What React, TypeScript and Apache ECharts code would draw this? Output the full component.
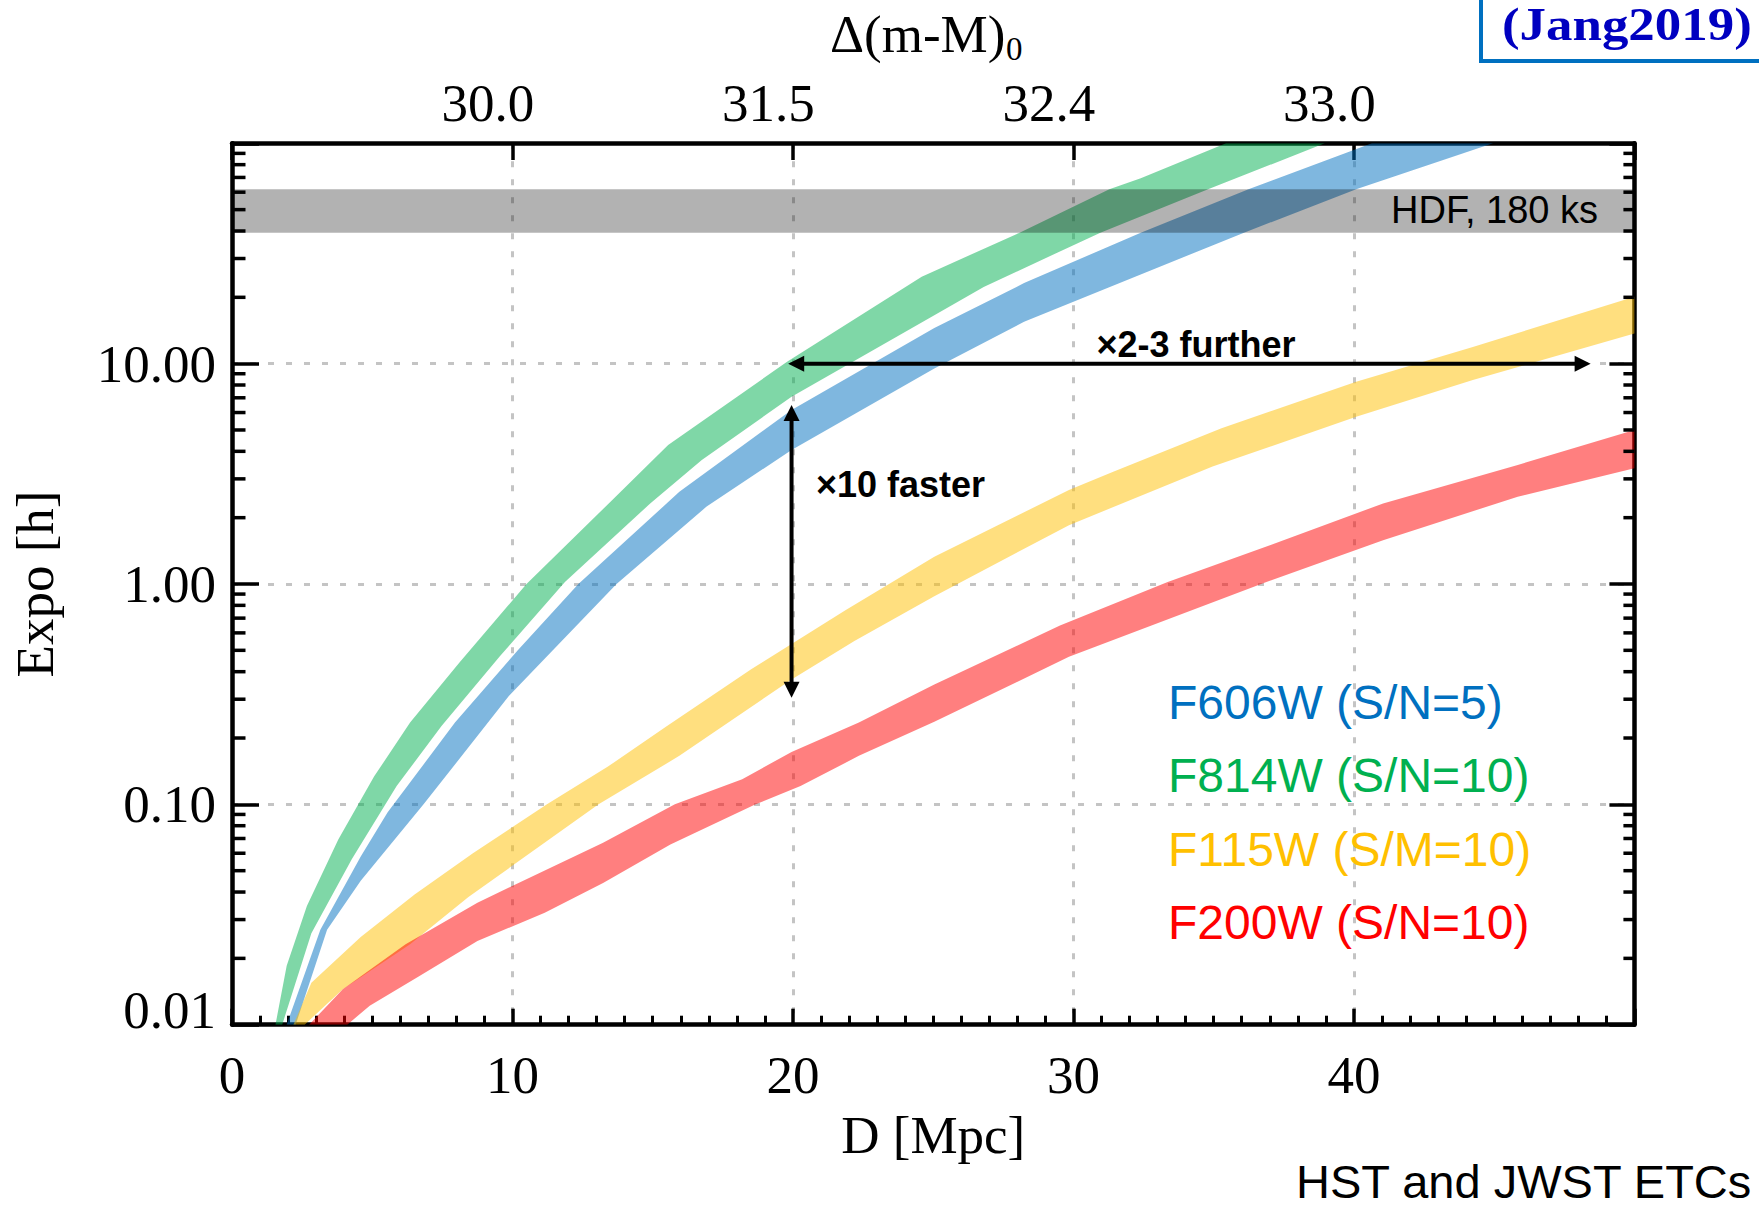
import { useEffect, useRef } from 'react';
import * as echarts from 'echarts';

type Pt = [number, number];

// ---- band edges: [D (Mpc), exposure (h)] ----
const f814wUpper: Pt[] = [[1.55, 0.01], [1.95, 0.0185], [2.67, 0.0346], [3.79, 0.0693], [5.07, 0.134], [6.35, 0.235], [8.11, 0.44], [10.5, 1.0], [13.55, 2.4], [15.55, 4.27], [19.79, 10.2], [24.59, 24.8], [28.08, 39.3], [31.28, 61.8], [32.4, 69.4], [35.44, 100]];
const f814wLower: Pt[] = [[1.79, 0.01], [2.83, 0.026], [4.27, 0.0563], [5.87, 0.121], [7.47, 0.227], [9.55, 0.47], [11.87, 1.02], [14.91, 2.32], [16.75, 3.65], [19.95, 7.08], [25.04, 16.6], [26.8, 22.3], [30.96, 39.3], [34.8, 61.8], [38.96, 100]];
const f606wUpper: Pt[] = [[1.95, 0.01], [3.15, 0.027], [4.59, 0.058], [5.55, 0.092], [7.95, 0.235], [10.19, 0.5], [12.35, 1.0], [15.95, 2.62], [19.95, 6.16], [25.04, 14.5], [28.24, 23.2], [32.4, 39.3], [36.24, 61.8], [40.64, 100]];
const f606wLower: Pt[] = [[2.27, 0.01], [3.39, 0.027], [4.59, 0.045], [6.83, 0.1], [9.87, 0.31], [13.71, 1.0], [16.91, 2.24], [19.95, 4.06], [25.04, 9.5], [28.24, 15.5], [36.08, 39.3], [40.08, 61.8], [44.96, 100]];
const f115wUpper: Pt[] = [[2.19, 0.01], [2.83, 0.0155], [4.59, 0.025], [6.51, 0.039], [8.59, 0.06], [11.23, 0.1], [13.39, 0.148], [15.47, 0.225], [18.51, 0.41], [21.87, 0.76], [25.04, 1.33], [29.84, 2.67], [31.44, 3.24], [35.28, 5.09], [40.08, 8.28], [44.24, 11.9], [50, 20.1]];
const f115wLower: Pt[] = [[2.59, 0.01], [3.95, 0.0145], [6.35, 0.0232], [8.43, 0.038], [13.07, 0.1], [15.95, 0.166], [19.95, 0.369], [22.19, 0.551], [25.04, 0.88], [29.84, 1.85], [34.96, 3.41], [40.08, 5.74], [44.24, 8.43], [50, 13.7]];
const f200wUpper: Pt[] = [[2.75, 0.01], [3.95, 0.0145], [6.19, 0.0232], [8.75, 0.0358], [13.23, 0.067], [15.79, 0.1], [18.19, 0.13], [19.95, 0.173], [22.35, 0.235], [25.04, 0.35], [29.52, 0.648], [33.36, 1.02], [37.2, 1.53], [41.04, 2.32], [45.84, 3.47], [50, 5.0]];
const f200wLower: Pt[] = [[4.11, 0.01], [4.91, 0.0122], [6.67, 0.0166], [8.75, 0.024], [11.15, 0.0322], [13.23, 0.044], [15.63, 0.0658], [18.67, 0.1], [20.27, 0.121], [22.35, 0.166], [25.04, 0.237], [29.84, 0.467], [36.88, 1.02], [41.04, 1.58], [45.84, 2.49], [50, 3.35]];

// HDF 180 ks band (hours)
const hdfRange: [number, number] = [39.3, 61.8];

// axes
const xRange: [number, number] = [0, 50];
const yRange: [number, number] = [0.01, 100];
const topTickValues = [10, 20, 30, 40];
const topTickLabels = ['30.0', '31.5', '32.4', '33.0'];
const yTickLabels = ['0.01', '0.10', '1.00', '10.00'];
const yDecades = [0.01, 0.1, 1, 10];
const yMinorMultipliers = [2, 3, 4, 5, 6, 7, 8, 9];

// annotation arrows: [x0, y0, x1, y1]
const arrowSegments: number[][] = [
  [19.83, 10, 48.44, 10],
  [19.95, 6.49, 19.95, 0.305],
];

const legendItems = [
  { text: 'F606W (S/N=5)', color: '#0070c0' },
  { text: 'F814W (S/N=10)', color: '#00b050' },
  { text: 'F115W (S/M=10)', color: '#ffc000' },
  { text: 'F200W (S/N=10)', color: '#ff0000' },
];

const bands = [
  { name: 'F814W', upper: f814wUpper, lower: f814wLower, fill: 'rgba(0,176,80,0.5)' },
  { name: 'F606W', upper: f606wUpper, lower: f606wLower, fill: 'rgba(0,112,192,0.5)' },
  { name: 'F115W', upper: f115wUpper, lower: f115wLower, fill: 'rgba(255,192,0,0.5)' },
  { name: 'F200W', upper: f200wUpper, lower: f200wLower, fill: 'rgba(255,0,0,0.5)' },
];

const SERIF = 'Liberation Serif';
const SANS = 'Liberation Sans';

export default function App() {
  const ref = useRef<HTMLDivElement>(null);

  useEffect(() => {
    if (!ref.current) return;
    const chart = echarts.init(ref.current, undefined, { renderer: 'svg' });

    const yMinorValues: number[] = [];
    yDecades.forEach((d) => yMinorMultipliers.forEach((m) => yMinorValues.push(+(d * m).toPrecision(3))));

    const gridLine = { show: true, lineStyle: { color: '#c4c4c4', width: 3, type: [6, 12] as any } };
    const axisLine = { show: true, onZero: false, lineStyle: { color: '#000', width: 4.5 } };

    const bandSeries = bands.map((b) => ({
      type: 'custom',
      name: b.name,
      clip: true,
      silent: true,
      data: [[25, 1]],
      renderItem: (_p: any, api: any) => {
        const pts = b.upper.map((p) => api.coord(p)).concat(b.lower.slice().reverse().map((p) => api.coord(p)));
        return { type: 'polygon', shape: { points: pts }, style: { fill: b.fill } };
      },
    }));

    const option: any = {
      animation: false,
      backgroundColor: '#fff',
      grid: { left: 231.4, top: 143.3, right: 124.6, bottom: 183.3, containLabel: false },
      xAxis: [
        {
          type: 'value', position: 'bottom', min: xRange[0], max: xRange[1], interval: 10,
          name: 'D [Mpc]', nameLocation: 'middle', nameGap: 84,
          nameTextStyle: { fontFamily: SERIF, fontSize: 53, color: '#000' },
          axisLine,
          axisTick: { show: true, inside: true, length: 16, lineStyle: { color: '#000', width: 3.5 } },
          minorTick: { show: true, splitNumber: 10, length: 9, lineStyle: { color: '#000', width: 3 } },
          axisLabel: {
            fontFamily: SERIF, fontSize: 53, color: '#000', margin: 24,
            formatter: (v: number) => (v >= xRange[1] ? '' : String(v)),
          },
          splitLine: gridLine,
        },
        {
          type: 'value', position: 'top', min: xRange[0], max: xRange[1], interval: 10,
          name: 'Δ(m-M)', nameLocation: 'middle', nameGap: 83,
          nameTextStyle: { fontFamily: SERIF, fontSize: 53, color: '#000', padding: [0, 31, 0, 0] },
          axisLine,
          axisTick: { show: true, inside: true, length: 16.7, lineStyle: { color: '#000', width: 3.5 } },
          axisLabel: {
            fontFamily: SERIF, fontSize: 53, color: '#000', margin: 14,
            padding: [0, 49, 0, 0],
            formatter: (v: number) => {
              const i = topTickValues.indexOf(Math.round(v));
              return i >= 0 ? topTickLabels[i] : '';
            },
          },
          splitLine: { show: false },
        },
      ],
      yAxis: [
        {
          type: 'log', logBase: 10, position: 'left', min: yRange[0], max: yRange[1], splitNumber: 4,
          name: 'Expo [h]', nameLocation: 'middle', nameGap: 171, nameRotate: 90,
          nameTextStyle: { fontFamily: SERIF, fontSize: 53, color: '#000' },
          axisLine,
          axisTick: { show: true, inside: true, length: 27, lineStyle: { color: '#000', width: 3.5 } },
          axisLabel: {
            fontFamily: SERIF, fontSize: 53, color: '#000', margin: 16,
            formatter: (v: number) => {
              const i = Math.round(Math.log10(v)) + 2;
              if (i === 0) return '{lo|' + yTickLabels[0] + '}';
              return yTickLabels[i] ?? '';
            },
            rich: { lo: { fontFamily: SERIF, fontSize: 53, color: '#000', padding: [0, 0, 30, 0] } },
          },
          splitLine: gridLine,
        },
        {
          type: 'log', logBase: 10, position: 'right', min: yRange[0], max: yRange[1], splitNumber: 4,
          axisLine,
          axisTick: { show: true, inside: true, length: 25, lineStyle: { color: '#000', width: 3.5 } },
          axisLabel: { show: false },
          splitLine: { show: false },
        },
      ],
      series: [
        ...bandSeries,
        {
          type: 'custom',
          name: 'HDF',
          clip: true,
          silent: true,
          data: [[25, hdfRange[0]]],
          renderItem: (_p: any, api: any) => {
            const p0 = api.coord([xRange[0], hdfRange[1]]);
            const p1 = api.coord([xRange[1], hdfRange[0]]);
            return {
              type: 'rect',
              shape: { x: p0[0], y: p0[1], width: p1[0] - p0[0], height: p1[1] - p0[1] },
              style: { fill: 'rgba(0,0,0,0.3)' },
            };
          },
        },
        {
          type: 'custom',
          name: 'minorTicks',
          silent: true,
          data: yMinorValues.map((v) => [xRange[0], v]),
          renderItem: (_p: any, api: any) => {
            const v = api.value(1);
            const l = api.coord([xRange[0], v]);
            const r = api.coord([xRange[1], v]);
            return {
              type: 'group',
              children: [
                { type: 'line', shape: { x1: l[0], y1: l[1], x2: l[0] + 13.5, y2: l[1] }, style: { stroke: '#000', lineWidth: 3.5 } },
                { type: 'line', shape: { x1: r[0] - 11, y1: r[1], x2: r[0], y2: r[1] }, style: { stroke: '#000', lineWidth: 3.5 } },
              ],
            };
          },
        },
        {
          type: 'custom',
          name: 'arrows',
          silent: true,
          data: arrowSegments,
          renderItem: (_p: any, api: any) => {
            const a = api.coord([api.value(0), api.value(1)]);
            const b = api.coord([api.value(2), api.value(3)]);
            const dx = b[0] - a[0];
            const dy = b[1] - a[1];
            const len = Math.hypot(dx, dy) || 1;
            const ux = dx / len;
            const uy = dy / len;
            const H = 16;
            const W = 8;
            const head = (t: number[], vx: number, vy: number) => ({
              type: 'polygon',
              shape: {
                points: [
                  [t[0], t[1]],
                  [t[0] - vx * H - vy * W, t[1] - vy * H + vx * W],
                  [t[0] - vx * H + vy * W, t[1] - vy * H - vx * W],
                ],
              },
              style: { fill: '#000' },
            });
            return {
              type: 'group',
              children: [
                {
                  type: 'line',
                  shape: { x1: a[0] + ux * H * 0.7, y1: a[1] + uy * H * 0.7, x2: b[0] - ux * H * 0.7, y2: b[1] - uy * H * 0.7 },
                  style: { stroke: '#000', lineWidth: 4 },
                },
                head(b, ux, uy),
                head(a, -ux, -uy),
              ],
            };
          },
        },
      ],
      graphic: [
        {
          type: 'text', x: 1006, y: 49, z: 101,
          style: { text: '0', fontFamily: SERIF, fontSize: 33, fill: '#000', textAlign: 'left', textVerticalAlign: 'middle' },
        },
        {
          type: 'rect', shape: { x: 1481, y: -20, width: 400, height: 81 },
          style: { fill: '#fff', stroke: '#0070c0', lineWidth: 4 }, z: 100,
        },
        {
          type: 'text', x: 1502, y: 25, scaleX: 1.15, z: 101,
          style: { text: '(Jang2019)', fontFamily: SERIF, fontWeight: 'bold', fontSize: 46, lineHeight: 40, fill: '#0000c0', textAlign: 'left', textVerticalAlign: 'middle' },
        },
        {
          type: 'text', x: 1598, y: 210.3, z: 101,
          style: { text: 'HDF, 180 ks', fontFamily: SANS, fontSize: 38, fill: '#000', textAlign: 'right', textVerticalAlign: 'middle' },
        },
        {
          type: 'text', x: 1096.5, y: 344.3, z: 101,
          style: { text: '×2-3 further', fontFamily: SANS, fontWeight: 'bold', fontSize: 36, fill: '#000', textAlign: 'left', textVerticalAlign: 'middle' },
        },
        {
          type: 'text', x: 816, y: 484.7, z: 101,
          style: { text: '×10 faster', fontFamily: SANS, fontWeight: 'bold', fontSize: 36, fill: '#000', textAlign: 'left', textVerticalAlign: 'middle' },
        },
        ...legendItems.map((it, i) => ({
          type: 'text', x: 1168, y: 702 + i * 73.6, z: 101,
          style: { text: it.text, fontFamily: SANS, fontSize: 48, fill: it.color, textAlign: 'left', textVerticalAlign: 'middle' },
        })),
        {
          type: 'text', x: 1296, y: 1181, z: 101,
          style: { text: 'HST and JWST ETCs', fontFamily: SANS, fontSize: 47, lineHeight: 40, fill: '#000', textAlign: 'left', textVerticalAlign: 'middle' },
        },
      ],
    };

    chart.setOption(option);
    return () => chart.dispose();
  }, []);

  return <div ref={ref} style={{ position: 'absolute', left: 0, top: 0, width: 1759, height: 1208 }} />;
}
